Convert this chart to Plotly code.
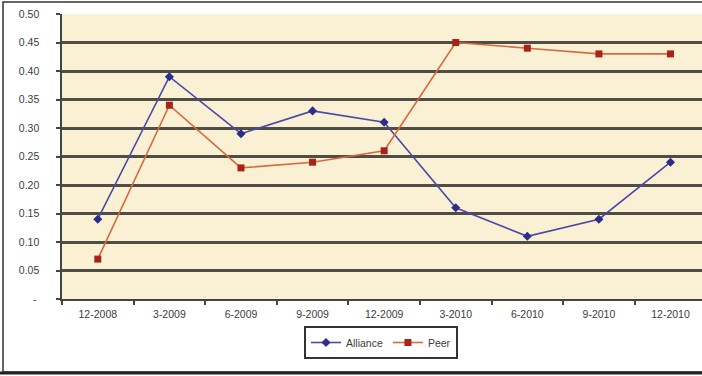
import plotly.graph_objects as go

# Quarter-end periods and ratios for each group
periods = ["12-2008", "3-2009", "6-2009", "9-2009", "12-2009",
           "3-2010", "6-2010", "9-2010", "12-2010"]
alliance = [0.14, 0.39, 0.29, 0.33, 0.31, 0.16, 0.11, 0.14, 0.24]
peer = [0.07, 0.34, 0.23, 0.24, 0.26, 0.45, 0.44, 0.43, 0.43]

y_ticks = [0, 0.05, 0.10, 0.15, 0.20, 0.25, 0.30, 0.35, 0.40, 0.45, 0.50]
pad = "\u00a0" * 5
y_labels = ["-" + pad + "\u00a0"] + [f"{v:.2f}" + pad for v in y_ticks[1:]]

W, H = 702, 376
ML, MT, MB = 62, 14, 77
plot_w = W - ML
plot_h = H - MT - MB
FS = 10.5

fig = go.Figure()
fig.add_trace(go.Scatter(
    x=periods, y=alliance, name="Alliance", mode="lines+markers",
    line=dict(color="#4a4aa8", width=1.6),
    marker=dict(symbol="diamond", size=7, color="#2c2c8c"),
))
fig.add_trace(go.Scatter(
    x=periods, y=peer, name="Peer", mode="lines+markers",
    line=dict(color="#d8683e", width=1.6),
    marker=dict(symbol="square", size=7, color="#a82418"),
))

# outer frame around the whole chart
def px_x(p):
    return (p - ML) / plot_w

def px_y(p):
    return (H - MB - p) / plot_h

fig.add_shape(type="rect", xref="paper", yref="paper",
              x0=px_x(3), x1=px_x(720), y0=px_y(372), y1=px_y(2),
              line=dict(color="#333333", width=1.5), layer="below")
fig.add_shape(type="line", xref="paper", yref="paper",
              x0=px_x(0), x1=px_x(702), y0=px_y(373), y1=px_y(373),
              line=dict(color="#222222", width=3))

fig.update_layout(
    width=W, height=H,
    margin=dict(l=ML, r=0, t=MT, b=MB),
    paper_bgcolor="white",
    plot_bgcolor="#faf0d4",
    font=dict(family="Liberation Sans, Arial, sans-serif", size=FS, color="#3c3c3c"),
    showlegend=True,
    legend=dict(
        orientation="h", x=px_x(381), xanchor="center",
        y=px_y(326), yanchor="top",
        bordercolor="#333333", borderwidth=2, bgcolor="white",
        font=dict(size=FS, color="#3c3c3c"),
        itemwidth=30,
    ),
    xaxis=dict(
        type="category", range=[-0.5, 8.44],
        showgrid=False, showline=True, linecolor="#444444", linewidth=2,
        ticks="outside", tickson="boundaries", ticklen=4,
        tickcolor="#444444", tickwidth=1.5,
        tickfont=dict(size=FS, color="#3c3c3c"),
        ticklabelstandoff=4,
        zeroline=False,
    ),
    yaxis=dict(
        range=[0, 0.5], tickvals=y_ticks, ticktext=y_labels,
        showgrid=True, gridcolor="#4e4e46", gridwidth=2.5,
        showline=True, linecolor="#444444", linewidth=2,
        ticks="outside", ticklen=4, tickcolor="#444444", tickwidth=1.5,
        tickfont=dict(size=FS, color="#3c3c3c"),
        zeroline=False,
    ),
)

fig.write_html("out.html")
